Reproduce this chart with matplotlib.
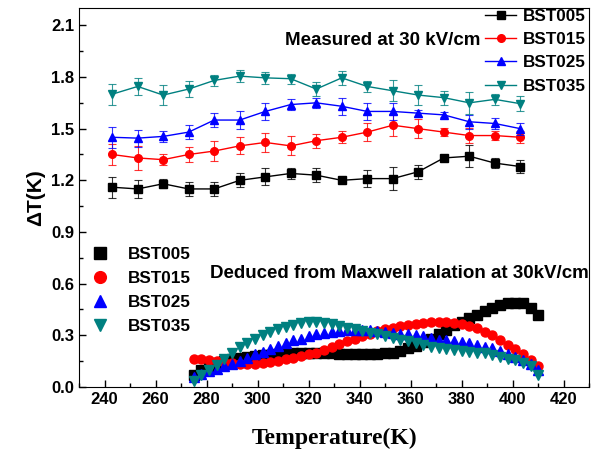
import numpy as np
import matplotlib
matplotlib.use('Agg')
import matplotlib.pyplot as plt
from matplotlib.ticker import MultipleLocator

plt.rcParams['font.family'] = ['Liberation Sans', 'DejaVu Sans']
plt.rcParams['font.weight'] = 'bold'

# measured at 30 kV/cm
T_meas = [243, 253, 263, 273, 283, 293, 303, 313, 323, 333, 343, 353, 363, 373, 383, 393, 403]
bst005 = [1.16, 1.15, 1.18, 1.15, 1.15, 1.20, 1.22, 1.24, 1.23, 1.20, 1.21, 1.21, 1.25, 1.33, 1.34, 1.30, 1.28]
bst005_err = [0.06, 0.05, 0.025, 0.04, 0.04, 0.04, 0.05, 0.03, 0.04, 0.01, 0.05, 0.065, 0.04, 0.01, 0.065, 0.03, 0.04]
bst015 = [1.35, 1.33, 1.32, 1.35, 1.37, 1.40, 1.42, 1.40, 1.43, 1.45, 1.48, 1.52, 1.50, 1.48, 1.46, 1.46, 1.45]
bst015_err = [0.06, 0.07, 0.03, 0.045, 0.06, 0.05, 0.055, 0.055, 0.04, 0.035, 0.05, 0.065, 0.055, 0.025, 0.045, 0.025, 0.035]
bst025 = [1.45, 1.445, 1.455, 1.48, 1.55, 1.55, 1.60, 1.64, 1.65, 1.63, 1.60, 1.60, 1.59, 1.58, 1.54, 1.53, 1.50]
bst025_err = [0.06, 0.05, 0.03, 0.04, 0.04, 0.05, 0.05, 0.03, 0.03, 0.05, 0.05, 0.05, 0.02, 0.015, 0.04, 0.03, 0.035]
bst035 = [1.70, 1.745, 1.695, 1.73, 1.78, 1.805, 1.795, 1.79, 1.73, 1.795, 1.745, 1.72, 1.695, 1.68, 1.65, 1.67, 1.645]
bst035_err = [0.06, 0.05, 0.06, 0.045, 0.03, 0.035, 0.035, 0.03, 0.04, 0.04, 0.03, 0.06, 0.06, 0.04, 0.065, 0.03, 0.045]

# deduced from Maxwell relation
T_ded = [275, 278, 281, 284, 287, 290, 293, 296, 299, 302, 305, 308, 311, 314, 317, 320,
         323, 326, 329, 332, 335, 338, 341, 344, 347, 350, 353, 356, 359, 362, 365, 368,
         371, 374, 377, 380, 383, 386, 389, 392, 395, 398, 401, 404, 407, 410]
ded005 = [0.07, 0.10, 0.12, 0.14, 0.15, 0.16, 0.17, 0.175, 0.18, 0.185, 0.185, 0.19, 0.19, 0.195, 0.195, 0.195,
          0.195, 0.195, 0.195, 0.19, 0.19, 0.19, 0.19, 0.19, 0.19, 0.195, 0.20, 0.21, 0.225, 0.24, 0.26, 0.28,
          0.31, 0.33, 0.36, 0.38, 0.40, 0.42, 0.44, 0.46, 0.475, 0.485, 0.49, 0.485, 0.46, 0.42]
ded015 = [0.165, 0.16, 0.155, 0.15, 0.145, 0.14, 0.135, 0.133, 0.135, 0.14, 0.145, 0.15, 0.16, 0.17, 0.18, 0.19,
          0.20, 0.215, 0.23, 0.25, 0.265, 0.28, 0.295, 0.31, 0.325, 0.335, 0.345, 0.355, 0.36, 0.365, 0.37, 0.375,
          0.375, 0.375, 0.37, 0.365, 0.355, 0.34, 0.32, 0.30, 0.27, 0.245, 0.22, 0.19, 0.155, 0.12]
ded025 = [0.06, 0.075, 0.09, 0.105, 0.12, 0.135, 0.15, 0.17, 0.19, 0.205, 0.22, 0.24, 0.255, 0.27, 0.28, 0.295,
          0.305, 0.315, 0.32, 0.325, 0.33, 0.33, 0.33, 0.33, 0.325, 0.32, 0.315, 0.31, 0.305, 0.30, 0.295, 0.285,
          0.275, 0.27, 0.265, 0.26, 0.255, 0.245, 0.235, 0.225, 0.21, 0.19, 0.175, 0.155, 0.135, 0.10]
ded035 = [0.035, 0.07, 0.10, 0.13, 0.165, 0.20, 0.23, 0.255, 0.28, 0.30, 0.32, 0.335, 0.35, 0.36, 0.37, 0.375,
          0.375, 0.37, 0.365, 0.355, 0.345, 0.335, 0.325, 0.315, 0.305, 0.295, 0.285, 0.275, 0.265, 0.255, 0.245, 0.235,
          0.225, 0.22, 0.215, 0.21, 0.205, 0.20, 0.195, 0.185, 0.175, 0.165, 0.155, 0.14, 0.12, 0.07]

labels = ['BST005', 'BST015', 'BST025', 'BST035']
colors = ['black', '#ff0000', '#0000ff', '#008080']
markers = ['s', 'o', '^', 'v']

fig = plt.figure(figsize=(5.94, 4.5), dpi=100)
ax = fig.add_axes([0.133, 0.14, 0.859, 0.842])

meas = [(bst005, bst005_err), (bst015, bst015_err), (bst025, bst025_err), (bst035, bst035_err)]
h1 = []
for (y, e), c, m, lab in zip(meas, colors, markers, labels):
    ax.errorbar(T_meas, y, yerr=e, fmt='none', ecolor=c, elinewidth=0.8, capsize=3, capthick=0.8, alpha=0.8)
    ln, = ax.plot(T_meas, y, '-', color=c, lw=1, marker=m, ms=5.5, mec=c, mfc=c, label=lab)
    h1.append(ln)

h2 = []
for y, c, m, lab in zip([ded005, ded015, ded025, ded035], colors, markers, labels):
    ln, = ax.plot(T_ded, y, ls='none', marker=m, ms=6.5, color=c, mec=c, label=lab)
    h2.append(ln)

ax.set_xlim(230, 430)
ax.set_ylim(0, 2.2)
ax.xaxis.set_major_locator(MultipleLocator(20))
ax.xaxis.set_minor_locator(MultipleLocator(10))
ax.yaxis.set_major_locator(MultipleLocator(0.3))
ax.yaxis.set_minor_locator(MultipleLocator(0.15))
ax.tick_params(which='both', direction='in', labelsize=12)
ax.tick_params(which='major', length=5, width=1)
ax.tick_params(which='minor', length=3, width=1)
for t in ax.get_xticklabels() + ax.get_yticklabels():
    t.set_fontweight('bold')

ax.set_xlabel('Temperature(K)', family='Liberation Serif', fontsize=17, fontweight='bold', labelpad=15)
ax.set_ylabel('ΔT(K)', fontsize=15, fontweight='bold', labelpad=4)

leg1 = ax.legend(handles=h1, loc='upper right', bbox_to_anchor=(586 / 594, 1 - 9 / 450),
                 bbox_transform=fig.transFigure, frameon=False, fontsize=12.3, borderpad=0,
                 borderaxespad=0, handlelength=1.8, handletextpad=0.4, labelspacing=0.48)
ax.add_artist(leg1)
ax.legend(handles=h2, loc='upper left', bbox_to_anchor=(90 / 594, 1 - 247 / 450),
          bbox_transform=fig.transFigure, frameon=False, fontsize=12.3, borderpad=0,
          borderaxespad=0, handlelength=1.2, handletextpad=1.0, labelspacing=0.52, markerscale=1.3)

ax.text(0.595, 0.915, 'Measured at 30 kV/cm', transform=ax.transAxes, ha='center', va='center',
        fontsize=13.5, fontweight='bold')
ax.text(0.999, 0.30, 'Deduced from Maxwell ralation at 30kV/cm', transform=ax.transAxes,
        ha='right', va='center', fontsize=13.5, fontweight='bold')

fig.savefig('out.png', dpi=100)
